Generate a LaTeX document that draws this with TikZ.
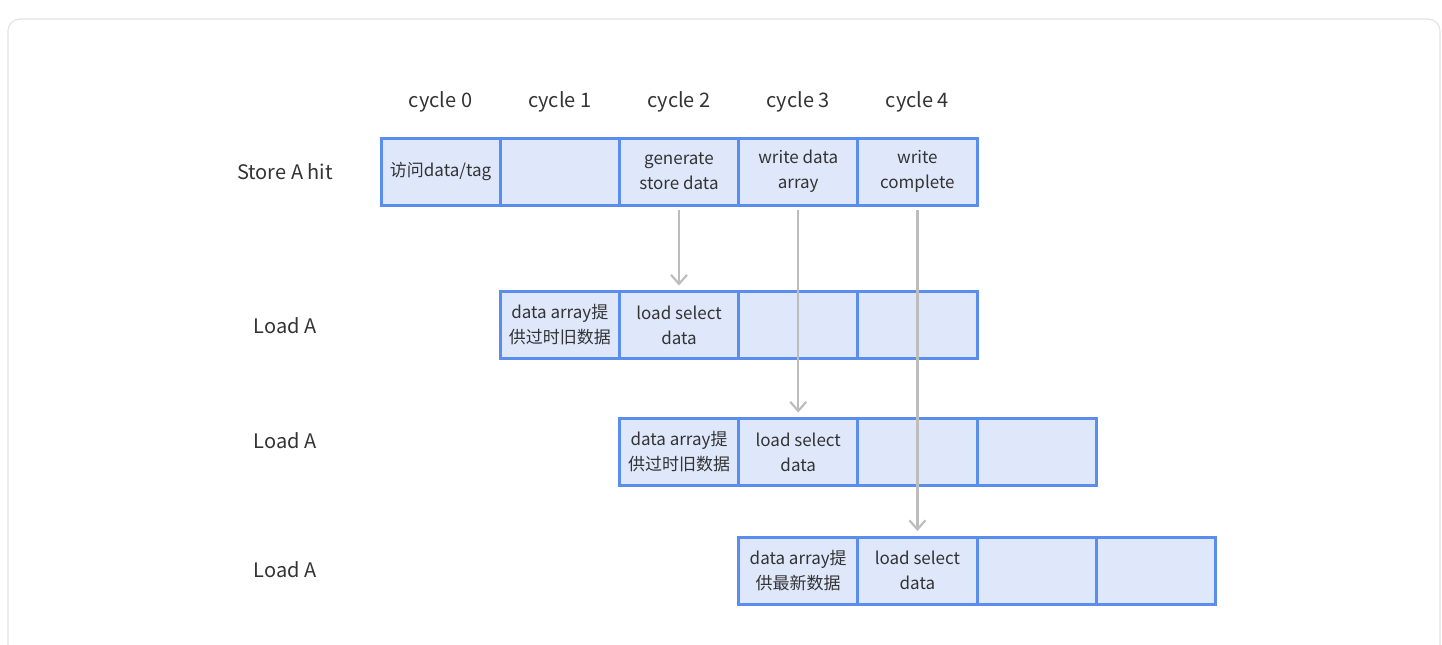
\documentclass[tikz,border=0pt]{standalone}
\usepackage{fontspec}
\setmainfont{Noto Sans CJK SC}
\usetikzlibrary{arrows.meta}
\definecolor{cellblue}{HTML}{5B8DEF}
\definecolor{cellfill}{HTML}{DFE8FB}
\definecolor{arrowgray}{HTML}{BDBDBD}
\definecolor{framegray}{HTML}{E3E3E3}
\definecolor{textgray}{HTML}{333333}
\tikzset{
  cell/.style={draw=cellblue, fill=cellfill, line width=1.5pt, minimum width=59.6pt,
    minimum height=33.5pt, inner sep=0pt, align=center, text=textgray,
    font=\fontsize{8.5}{12.5}\selectfont},
  lbl/.style={text=textgray, font=\fontsize{10}{12}\selectfont},
  dep/.style={draw=arrowgray, line width=1.1pt, -{Straight Barb[length=4.5pt,width=8pt]},
    shorten <=1.75pt, shorten >=2.25pt}
}
\begin{document}
\begin{tikzpicture}[x=0.5pt,y=-0.5pt]
\useasboundingbox (0,0) rectangle (1442,644);
\draw[framegray, line width=0.6pt, rounded corners=6pt] (8,19) rectangle (1440,670);
\foreach \i in {0,...,4}
  \node[lbl] (cyc\i) at ({440.6+119.2*\i},102) {cycle \i};
\node[lbl] (store) at (285,171.5) {Store A hit};
\foreach \i/\txt in {0/{访问data/tag}, 1/{}, 2/{generate\\store data},
    3/{write data\\array}, 4/{write\\complete}}
  \node[cell] (s\i) at ({440.6+119.2*\i},171.5) {\txt};
\foreach \r/\y/\ly/\txt in {1/325/326/{data array提\\供过时旧数据},
    2/452/441/{data array提\\供过时旧数据}, 3/570.5/570/{data array提\\供最新数据}} {
  \node[lbl] (load\r) at (285,\ly) {Load A};
  \node[cell] (l\r-0) at ({440.6+119.2*\r},\y) {\txt};
  \node[cell] (l\r-1) at ({440.6+119.2*(\r+1)},\y) {load select\\data};
  \foreach \j in {2,3}
    \node[cell] (l\r-\j) at ({440.6+119.2*(\r+\j)},\y) {};
}
\foreach \i/\r in {2/1, 3/2, 4/3}
  \draw[dep] (s\i.south) -- (s\i.south |- l\r-1.north);
\end{tikzpicture}
\end{document}
